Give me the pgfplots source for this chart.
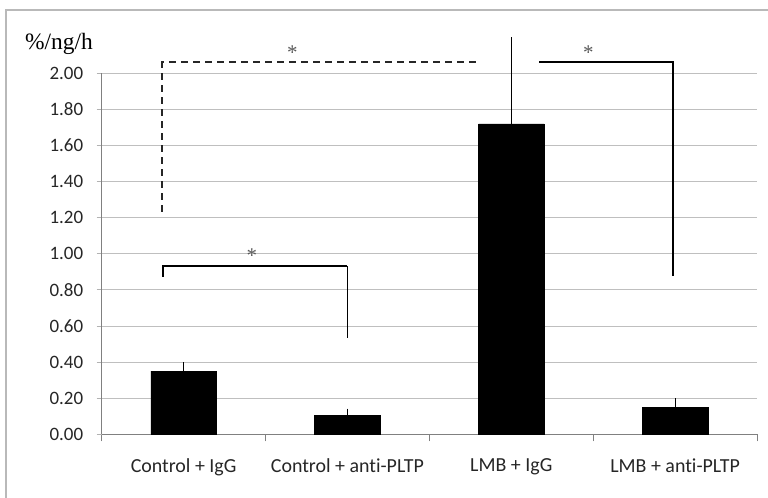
\documentclass[border=0pt]{standalone}
\usepackage{fontspec}
\setmainfont{Carlito}[Ligatures=NoCommon]
\newfontfamily\seriffont{Liberation Serif}
\usepackage{pgfplots}
\pgfplotsset{compat=1.18}
\begin{document}
\begin{tikzpicture}[x=1bp,y=1bp]
\useasboundingbox (0,0) rectangle (768,498);
\draw[gray!55, line width=2bp] (6,-2) -- (6,488) -- (770,488);
\node[anchor=base west, inner sep=0pt, font=\seriffont\fontsize{23.5}{25}\selectfont] at (25,448) {\%/ng/h};
\begin{axis}[
  at={(101.7bp,63.7bp)}, anchor=south west,
  scale only axis, width=655.3bp, height=361bp,
  xmin=-0.5, xmax=3.5, ymin=0, ymax=2.0,
  clip=false,
  axis x line=bottom, axis y line=left,
  axis line style={-, draw=gray, line width=0.8bp},
  tick align=outside,
  xtick={0,1,2,3},
  xticklabels={Control + IgG, Control + anti-PLTP, LMB + IgG, LMB + anti-PLTP},
  minor xtick={-0.5,0.5,1.5,2.5,3.5},
  major x tick style={draw=none},
  minor x tick style={draw=gray, line width=0.8bp},
  minor tick length=7bp,
  ytick={0,0.2,0.4,0.6,0.8,1.0,1.2,1.4,1.6,1.8,2.0},
  major tick length=5bp,
  ytick style={draw=gray!60, line width=0.8bp},
  ymajorgrids, grid style={draw=gray!50, line width=0.8bp},
  /pgf/number format/assume math mode=true,
  yticklabel={\pgfmathprintnumber[fixed, fixed zerofill, precision=2]{\tick}},
  yticklabel style={font=\fontsize{19}{20}\selectfont, anchor=east, xshift=-10bp, text=black!85},
  xticklabel style={font=\fontsize{20}{21}\selectfont, yshift=-16bp, text=black!85},
  ybar, bar width=0.4,
]
\addplot[fill=black, draw=black,
  error bars/.cd, y dir=plus, y explicit, error mark=none,
  error bar style={black, line width=1bp}]
  coordinates {
    (0,0.35) +- (0,0.05)
    (1,0.105) +- (0,0.037)
    (2,1.72) +- (0,0.48)
    (3,0.15) +- (0,0.05)
  };
% significance brackets
\draw[black!85, line width=2bp, dash pattern=on 7bp off 5bp] (axis cs:-0.13,1.234) -- (axis cs:-0.13,2.061) -- (axis cs:1.81,2.061);
\draw[black, line width=2bp] (axis cs:2.17,2.061) -- (axis cs:2.99,2.061) -- (axis cs:2.99,0.877);
\draw[black, line width=2bp] (axis cs:-0.128,0.873) -- (axis cs:-0.128,0.932) -- (axis cs:1.0,0.932);
\draw[black, line width=1.1bp] (axis cs:1.0,0.932) -- (axis cs:1.0,0.532);
\node[font=\seriffont\fontsize{21}{22}\selectfont, text=black!65] at (axis cs:0.663,2.115) {*};
\node[font=\seriffont\fontsize{21}{22}\selectfont, text=black!65] at (axis cs:2.47,2.115) {*};
\node[font=\seriffont\fontsize{21}{22}\selectfont, text=black!65] at (axis cs:0.417,0.99) {*};
\end{axis}
\end{tikzpicture}
\end{document}
